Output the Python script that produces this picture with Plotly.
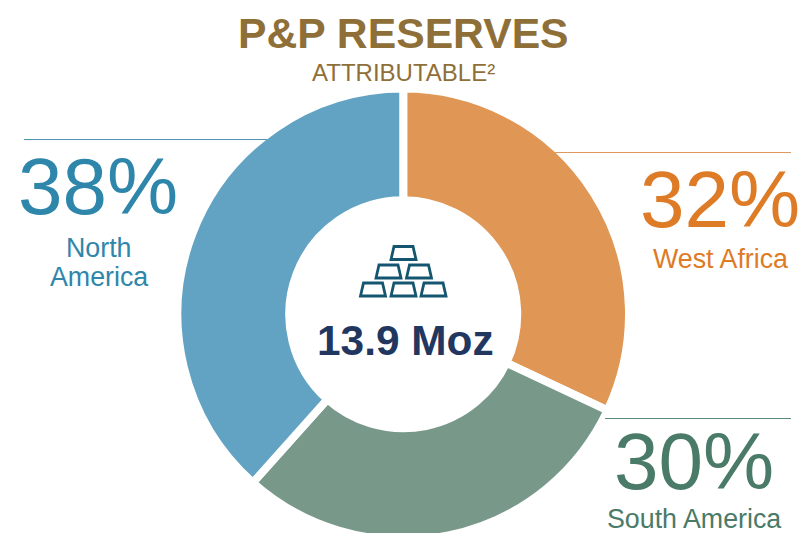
import plotly.graph_objects as go

regions = ["West Africa", "South America", "North America"]
shares = [32, 30, 38]
slice_values = [32, 29.6, 38.4]
slice_colors = ["#E09654", "#78988A", "#62A3C3"]
text_colors = ["#DE7B26", "#4A7A68", "#2E86AB"]
title_text = "P&P RESERVES"
subtitle_text = "ATTRIBUTABLE²"
center_text = "13.9 Moz"

W, H = 802, 560
px = lambda x: x / W
py = lambda y: 1 - y / H

fig = go.Figure(go.Pie(
    labels=regions, values=slice_values, sort=False, direction="clockwise", rotation=0,
    hole=0.505, textinfo="none", hoverinfo="label",
    marker=dict(colors=slice_colors, line=dict(color="white", width=8)),
    domain=dict(x=[px(177.5), px(629)], y=[py(540), py(88.5)]),
    showlegend=False,
))

def text(x, y, s, size, color, bold=False):
    fig.add_annotation(x=px(x), y=py(y), xref="paper", yref="paper", text=f"<b>{s}</b>" if bold else s,
                       showarrow=False, xanchor="center", yanchor="middle",
                       font=dict(family="Liberation Sans", size=size, color=color))

text(403.5, 32.5, title_text, 42.7, "#8F6F38", True)
text(403.5, 72, subtitle_text, 24, "#8F6F38")
text(98, 187, f"{shares[2]}%", 80, text_colors[2])
text(98.5, 248, "North", 26.8, text_colors[2])
text(98.5, 277, "America", 26.8, text_colors[2])
text(720, 199, f"{shares[0]}%", 80, text_colors[0])
text(720.5, 259, regions[0], 26.8, text_colors[0])
text(694, 461, f"{shares[1]}%", 80, text_colors[1])
text(694, 518.5, regions[1], 26.8, text_colors[1])
text(405.5, 341, center_text, 42.4, "#22375F", True)

for x0, x1, y, c in [(24, 267, 139, "#4F93B3"), (555, 791, 152, "#DE9A5E"), (605, 791, 418, "#5E8A78")]:
    fig.add_shape(type="line", x0=px(x0), x1=px(x1), y0=py(y + 0.5), y1=py(y + 0.5), xref="paper", yref="paper",
                  line=dict(color=c, width=1), layer="above")

# gold bars icon
for bx, by in [(403.5, 253), (388.5, 271.5), (419, 271.5), (373, 289.5), (403.5, 289.5), (433.5, 289.5)]:
    pts = [(bx - 12.5, by + 6.5), (bx - 9.5, by - 6.5), (bx + 9.5, by - 6.5), (bx + 12.5, by + 6.5)]
    path = "M " + " L ".join(f"{px(a):.5f},{py(b):.5f}" for a, b in pts) + " Z"
    fig.add_shape(type="path", path=path, xref="paper", yref="paper", line=dict(color="#14566F", width=2.8))

fig.update_layout(width=W, height=H, margin=dict(l=0, r=0, t=0, b=0), paper_bgcolor="white", plot_bgcolor="white")
fig.write_html("out.html", config={"displayModeBar": False},
               post_script="document.body.style.margin='0';document.documentElement.style.overflow='hidden';document.body.style.overflow='hidden';")
